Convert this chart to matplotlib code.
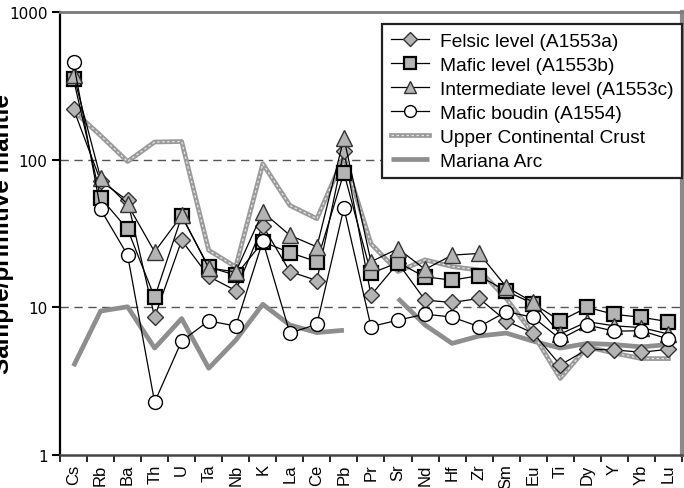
#Spider diagram normalised to primitive mantle

import numpy as np
import matplotlib.pyplot as plt

elements = ['Cs','Rb','Ba','Th','U','Ta','Nb','K','La','Ce','Pb','Pr','Sr','Nd','Hf','Zr','Sm','Eu','Ti','Dy','Y','Yb','Lu']

felsic = [221, 72, 53, 8.6, 28.5, 16.2, 13.0, 35.8, 17.5, 15.2, 115, 12.1, 20, 11.2, 10.8, 11.5, 8.1, 6.7, 4.07, 5.2, 5.15, 4.97, 5.2]
mafic = [352, 55.4, 33.8, 11.7, 41.4, 18.8, 16.5, 27.8, 23.5, 20.4, 81.7, 17.0, 20.1, 16.1, 15.3, 16.4, 12.9, 10.6, 8.1, 10.0, 8.97, 8.57, 8.0]
intermediate = [375, 75.6, 49.9, 23.8, 42, 18.5, 17.4, 44.3, 30.8, 25.7, 140, 20.4, 25.0, 18.1, 22.6, 23.2, 13.8, 10.8, 6.6, 8.0, 7.5, 7.3, 6.6]
boudin = [457, 46.2, 22.6, 2.28, 5.92, 8.1, 7.48, 28.2, 6.7, 7.68, 47.2, 7.41, 8.2, 9.0, 8.6, 7.4, 9.35, 8.57, 6.1, 7.6, 6.9, 6.95, 6.1]
ucc = [215, 146, 97.4, 132, 133, 24.4, 18.8, 94, 49.1, 39.9, 105, 27, 17.5, 21, 18.9, 17.9, 11.5, 6.6, 3.3, 5.4, 4.9, 4.5, 4.5]
mariana = [4.0, 9.44, 10.1, 5.3, 8.4, 3.87, 6.0, 10.5, 7.6, 6.75, 7.0, np.nan, 11.5, 7.6, 5.7, 6.4, 6.7, 5.9, 5.3, 5.7, 5.6, 5.4, 5.6]

x = np.arange(len(elements))

fig = plt.figure(figsize=(6.84, 4.89), dpi=100)
ax = fig.add_axes([0.0877, 0.0675, 0.9093, 0.9055])

# reference curves
m_line, = ax.plot(x, mariana, color='#8e8e8e', lw=3.4, solid_capstyle='butt', zorder=2)
u_base, = ax.plot(x, ucc, color='#9a9a9a', lw=3.4, zorder=2)
u_dots, = ax.plot(x, ucc, color='#e6e6e6', lw=0.9, ls=(0, (2, 2)), zorder=2)

# samples
grey = '#b4b4b4'
f_line, = ax.plot(x, felsic, color='black', lw=0.9, marker='D', ms=8, mfc=grey, mec='#333333', mew=1.0, zorder=3)
s_line, = ax.plot(x, mafic, color='black', lw=0.9, marker='s', ms=10, mfc=grey, mec='black', mew=1.6, zorder=4)
t_line, = ax.plot(x, intermediate, color='black', lw=0.9, marker='^', ms=11, mfc=grey, mec='#333333', mew=1.0, zorder=5)
c_line, = ax.plot(x, boudin, color='black', lw=0.9, marker='o', ms=10, mfc='white', mec='black', mew=1.0, zorder=6)

ax.set_yscale('log')
ax.set_ylim(1, 1000)
ax.set_xlim(-0.5, len(elements) - 0.5)

# dashed lines at 10 and 100
for g in [10, 100]:
    ax.axhline(g, color='#555555', lw=1.0, ls=(0, (6, 4)), zorder=1)

ax.set_yticks([1, 10, 100, 1000])
ax.set_yticklabels(['1', '10', '100', '1000'], fontsize=11, family='DejaVu Sans')
ax.yaxis.set_minor_locator(plt.NullLocator())
ax.tick_params(axis='y', length=6, width=1.5, direction='out', pad=3)

ax.set_xticks(np.arange(-0.5, len(elements)))
ax.set_xticklabels([])
ax.set_xticks(x, minor=True)
ax.set_xticklabels(elements, minor=True, rotation=90, fontsize=12, family='Liberation Sans')
ax.tick_params(axis='x', which='major', length=5, width=1.2, direction='out')
ax.tick_params(axis='x', which='minor', length=0, pad=6)

ax.spines['left'].set_color('black')
ax.spines['left'].set_linewidth(1.6)
ax.spines['bottom'].set_color('#444444')
ax.spines['bottom'].set_linewidth(1.8)
ax.spines['top'].set_color('#7a7a7a')
ax.spines['top'].set_linewidth(2.0)
ax.spines['right'].set_color('#8a8a8a')
ax.spines['right'].set_linewidth(3.0)

# y label sits partly off the left edge, as in the original
fig.text(0.004, 0.521, 'Sample/primitive mantle', rotation=90, va='center', ha='center',
         fontsize=17.5, fontweight='bold', family='Liberation Sans')

leg = ax.legend([f_line, s_line, t_line, c_line, (u_base, u_dots), m_line],
                ['Felsic level (A1553a)', 'Mafic level (A1553b)', 'Intermediate level (A1553c)',
                 'Mafic boudin (A1554)', 'Upper Continental Crust', 'Mariana Arc'],
                loc='upper right', bbox_to_anchor=(1.0, 0.973), fancybox=False, framealpha=1,
                edgecolor='#222222', prop={'family': 'Liberation Sans', 'size': 13.8},
                labelspacing=0.34, handlelength=2.0, handletextpad=0.55, borderpad=0.45,
                markerscale=0.85, borderaxespad=0)
leg.get_frame().set_linewidth(1.6)
leg.set_zorder(10)

plt.savefig('out.png', dpi=100)
